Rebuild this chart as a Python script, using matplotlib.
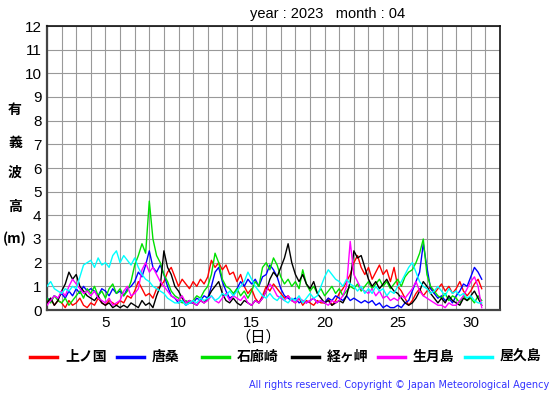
import matplotlib
matplotlib.use("Agg")
import matplotlib.pyplot as plt
import numpy as np
from matplotlib.lines import Line2D

# 4 samples per day, starting at day 1.0
station_names = ["上ノ国", "唐桑", "石廊崎", "経ヶ岬", "生月島", "屋久島"]
station_colors = ["#ff0000", "#0000ff", "#00e000", "#000000", "#ff00ff", "#00ffff"]

kaminokuni = [
    0.3,0.5,0.2,0.4, 0.3,0.1,0.4,0.2, 0.3,0.5,0.2,0.1, 0.3,0.2,0.5,0.3, 0.2,0.4,0.3,0.2,
    0.4,0.3,0.6,0.5, 0.8,1.2,0.9,0.6, 0.7,0.5,0.9,1.0, 1.2,1.6,1.8,1.4, 1.0,1.3,1.1,0.9,
    1.2,1.0,1.3,1.1, 1.4,2.1,1.8,2.0, 1.7,1.9,1.5,1.6, 1.2,1.5,1.0,0.7, 0.9,0.5,0.3,0.6,
    1.0,0.8,1.1,0.9, 0.7,0.5,0.6,0.4, 0.3,0.5,0.2,0.4, 0.3,0.2,0.4,0.3, 0.3,0.5,0.2,0.4,
    0.7,0.9,1.2,1.5, 2.0,2.3,1.8,1.5, 1.8,1.3,1.6,1.9, 1.5,1.7,1.2,1.8, 1.0,0.8,0.5,0.2,
    0.4,0.7,0.9,0.6, 0.8,1.0,0.7,0.9, 1.1,0.8,1.0,0.7, 0.9,1.2,0.8,0.6, 0.8,1.1,1.3,0.9]
karakuwa = [
    0.5,0.4,0.6,0.5, 0.7,0.5,0.8,0.6, 0.9,0.7,1.0,0.8, 0.9,0.8,0.6,0.9, 0.8,0.6,0.9,0.7,
    0.8,0.6,0.9,1.0, 1.2,1.6,1.4,1.9, 2.5,1.8,1.6,1.9, 1.5,1.0,0.6,0.5, 0.3,0.4,0.2,0.3,
    0.3,0.5,0.4,0.6, 0.5,1.0,1.6,1.8, 1.2,0.8,0.5,0.6, 0.9,1.2,1.0,1.3, 1.1,1.3,1.0,1.4,
    1.5,1.9,1.7,1.4, 0.9,0.6,0.5,0.4, 0.5,0.3,0.4,0.3, 0.4,0.5,0.3,0.4, 0.3,0.5,0.4,0.6,
    0.5,0.4,0.6,0.4, 0.5,0.4,0.3,0.4, 0.3,0.4,0.2,0.3, 0.1,0.2,0.1,0.1, 0.2,0.1,0.3,0.4,
    0.8,1.2,1.6,2.8, 1.8,0.9,0.7,0.5, 0.6,0.4,0.5,0.3, 0.6,0.8,1.1,1.0, 1.4,1.8,1.6,1.3]
irozaki = [
    0.5,0.3,0.6,0.4, 0.3,0.5,0.2,0.4, 0.6,0.8,0.5,0.9, 0.7,1.0,0.6,0.8, 0.5,0.9,1.1,0.7,
    0.9,0.6,0.8,1.2, 1.9,2.3,2.8,2.4, 4.6,3.0,2.3,2.0, 1.5,1.2,0.8,0.6, 0.5,0.3,0.4,0.3,
    0.4,0.6,0.5,0.8, 1.0,1.5,2.4,2.0, 1.3,1.0,0.9,0.7, 0.9,0.6,0.8,0.5, 0.8,1.2,1.0,1.8,
    2.0,1.7,2.2,1.9, 1.4,1.1,1.3,1.0, 1.2,0.9,1.7,1.1, 0.8,1.0,0.7,0.9, 0.6,0.8,1.0,0.7,
    0.9,0.6,0.8,1.0, 0.9,1.1,0.8,1.0, 1.2,0.9,1.1,1.3, 1.0,1.2,0.9,1.1, 1.3,1.0,1.4,1.6,
    1.7,2.0,2.4,3.0, 1.5,1.0,0.8,0.6, 0.5,0.7,0.4,0.6, 0.5,0.3,0.6,0.4, 0.5,0.3,0.6,0.4]
kyogamisaki = [
    0.3,0.5,0.2,0.4, 0.8,1.1,1.6,1.3, 1.5,1.0,0.8,0.6, 0.5,0.4,0.6,0.3, 0.2,0.3,0.1,0.2,
    0.1,0.2,0.1,0.3, 0.2,0.1,0.4,0.2, 0.3,0.1,0.6,1.0, 2.5,1.8,1.5,1.0, 0.8,0.5,0.3,0.4,
    0.3,0.2,0.4,0.3, 0.5,0.8,1.0,1.2, 0.7,0.4,0.3,0.5, 0.3,0.2,0.4,0.3, 0.2,0.4,0.3,0.5,
    0.8,1.3,1.6,1.4, 1.8,2.2,2.8,2.0, 1.5,1.2,1.5,1.1, 0.9,1.2,0.7,0.5, 0.3,0.4,0.2,0.3,
    0.4,0.3,0.6,1.2, 2.5,2.2,2.3,1.8, 1.3,1.0,1.2,0.9, 1.1,1.3,1.0,0.8, 0.7,0.5,0.3,0.2,
    0.3,0.5,0.8,1.2, 1.0,0.7,0.5,0.3, 0.5,0.3,0.6,0.4, 0.3,0.2,0.5,0.4, 0.6,0.8,0.5,0.2]
ikitsukishima = [
    0.2,0.4,0.6,0.5, 0.8,0.6,1.0,1.3, 1.1,0.9,0.7,0.8, 0.6,0.8,0.5,0.4, 0.3,0.5,0.2,0.3,
    0.4,0.8,1.0,0.6, 0.7,0.9,1.7,2.0, 1.6,1.8,1.5,1.2, 1.0,0.8,0.6,0.5, 0.4,0.6,0.3,0.4,
    0.3,0.2,0.4,0.3, 0.4,0.6,0.4,0.3, 0.5,0.7,0.4,0.6, 0.5,0.4,0.6,0.3, 0.2,0.4,0.3,0.5,
    0.8,1.1,0.9,0.6, 0.5,0.4,0.6,0.4, 0.3,0.5,0.4,0.3, 0.4,0.5,0.3,0.4, 0.3,0.2,0.4,0.3,
    0.4,0.6,1.0,2.9, 1.5,1.2,0.9,0.8, 0.7,0.9,0.6,0.8, 0.5,0.6,0.4,0.5, 0.4,0.6,0.5,0.7,
    0.9,1.2,0.8,0.6, 0.5,0.4,0.3,0.2, 0.2,0.1,0.3,0.2, 0.2,0.4,0.6,0.9, 1.2,1.4,1.0,0.1]
yakushima = [
    1.0,1.2,0.9,0.8, 0.7,0.9,0.8,1.0, 0.9,1.4,1.9,2.0, 2.1,1.8,2.2,1.9, 2.0,1.8,2.3,2.5,
    2.0,2.3,2.1,1.9, 2.2,1.8,1.5,1.3, 1.2,1.0,0.9,0.8, 0.7,0.5,0.4,0.3, 0.3,0.4,0.2,0.3,
    0.4,0.3,0.5,0.4, 0.5,0.6,0.4,0.5, 0.7,0.6,0.8,0.6, 0.8,1.0,1.2,1.6, 1.3,1.0,0.8,0.6,
    0.5,0.7,0.5,0.4, 0.6,0.4,0.3,0.5, 0.4,0.6,0.3,0.5, 0.7,0.5,0.6,1.0, 1.4,1.7,1.5,1.3,
    1.2,1.0,1.3,1.1, 1.0,0.8,1.0,0.7, 0.9,0.7,1.0,0.8, 0.9,0.6,0.8,0.7, 1.0,1.2,1.5,1.8,
    2.0,1.6,1.2,1.0, 0.9,0.7,0.8,1.0, 0.8,0.6,0.9,0.7, 0.8,0.6,0.7,0.5, 0.6,0.4,0.3,0.3]

series = [kaminokuni, karakuwa, irozaki, kyogamisaki, ikitsukishima, yakushima]
samples_per_day = 4
x_ticks = [5, 10, 15, 20, 25, 30]
y_ticks = list(range(0, 13))

plt.rcParams['font.family'] = ['Liberation Sans', 'Noto Sans CJK JP', 'DejaVu Sans']

fig = plt.figure(figsize=(5.55, 3.95), dpi=100)
W, H = 555, 395
ax = fig.add_axes([47 / W, 1 - 310 / H, (500 - 47) / W, (310 - 26) / H])

for i in range(len(series)):
    vals = np.array(series[i])
    t = 1 + np.arange(len(vals)) / samples_per_day
    ax.plot(t, vals, color=station_colors[i], lw=1.0, zorder=3)

ax.set_xlim(1, 32)
ax.set_ylim(0, 12)
ax.set_xticks(x_ticks)
ax.set_xticks(np.arange(1, 33), minor=True)
ax.set_yticks(y_ticks)
ax.grid(True, which='both', color='#999999', lw=0.8, zorder=1)
ax.tick_params(which='both', length=0, labelsize=11, pad=4)
for side in ['left', 'bottom']:
    ax.spines[side].set_linewidth(1.6)
    ax.spines[side].set_color('#444444')
for side in ['top', 'right']:
    ax.spines[side].set_linewidth(1.2)
    ax.spines[side].set_color('#111111')

fig.text(250 / W, 1 - 14 / H, "year : 2023   month : 04", fontsize=10.5,
         ha='left', va='center')

ylabel_chars = ["有", "義", "波", "高", "(m)"]
ylabel_y = [110, 143, 173, 207, 239]
for ch, yy in zip(ylabel_chars, ylabel_y):
    fig.text(15 / W, 1 - yy / H, ch, fontsize=10, ha='center', va='center',
             family=['Noto Sans CJK JP'], fontweight='bold')

fig.text(258 / W, 1 - 337 / H, "（日）", fontsize=11, ha='center', va='center',
         family=['Noto Sans CJK JP'])

legend_line_x = [30, 117, 202, 292, 378, 465]
for name, col, lx in zip(station_names, station_colors, legend_line_x):
    fig.add_artist(Line2D([lx / W, (lx + 27) / W], [1 - 357 / H, 1 - 357 / H],
                          color=col, lw=2.5, transform=fig.transFigure))
    fig.text((lx + 35) / W, 1 - 357 / H, name, fontsize=10, ha='left', va='center',
             family=['Noto Sans CJK JP'], fontweight='bold')

fig.text(549 / W, 1 - 385 / H,
         "All rights reserved. Copyright © Japan Meteorological Agency",
         fontsize=7, color='#3333ff', ha='right', va='center', family=['DejaVu Sans'])

fig.savefig("out.png", dpi=100)
